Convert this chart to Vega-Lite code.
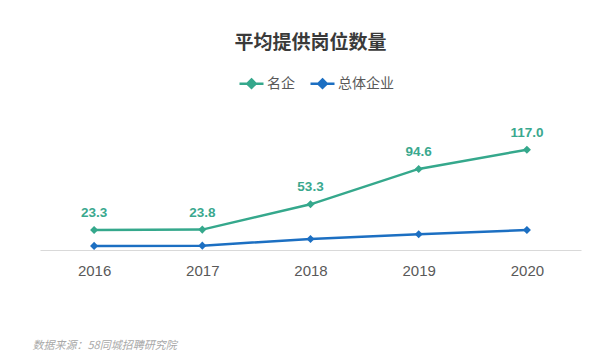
{
  "$schema": "https://vega.github.io/schema/vega-lite/v6.json",
  "width": 541,
  "height": 120,
  "autosize": {"type": "none"},
  "padding": {"left": 40, "top": 130, "right": 10, "bottom": 110},
  "background": "white",
  "config": {"view": {"stroke": null}},
  "title": {
    "text": "平均提供岗位数量",
    "font": "Noto Sans CJK SC",
    "fontSize": 19,
    "fontWeight": "bold",
    "color": "#3a3a3a",
    "anchor": "middle",
    "frame": "group",
    "offset": 17
  },
  "data": {
    "values": [
      {"year": "2016", "series": "名企", "value": 23.3},
      {"year": "2017", "series": "名企", "value": 23.8},
      {"year": "2018", "series": "名企", "value": 53.3},
      {"year": "2019", "series": "名企", "value": 94.6},
      {"year": "2020", "series": "名企", "value": 117.0},
      {"year": "2016", "series": "总体企业", "value": 4.8},
      {"year": "2017", "series": "总体企业", "value": 5.1},
      {"year": "2018", "series": "总体企业", "value": 12.8},
      {"year": "2019", "series": "总体企业", "value": 18.4},
      {"year": "2020", "series": "总体企业", "value": 23.3}
    ]
  },
  "encoding": {
    "x": {
      "field": "year",
      "type": "ordinal",
      "scale": {"paddingInner": 0, "paddingOuter": 0},
      "axis": {
        "title": "数据来源：58同城招聘研究院",
        "titleFont": "Noto Sans CJK SC",
        "titleFontStyle": "italic",
        "titleFontWeight": "normal",
        "titleFontSize": 11,
        "titleColor": "#a8a8a8",
        "titleAnchor": "start",
        "titleAlign": "left",
        "titleBaseline": "middle",
        "titleX": -8,
        "titleY": 95,
        "labelAngle": 0,
        "labelFont": "Liberation Sans",
        "labelFontSize": 15,
        "labelColor": "#595959",
        "labelPadding": 13,
        "ticks": false,
        "domainColor": "#d9d9d9",
        "domainWidth": 1,
        "grid": false
      }
    },
    "y": {
      "field": "value",
      "type": "quantitative",
      "scale": {"domain": [0, 140]},
      "axis": null
    },
    "color": {
      "field": "series",
      "type": "nominal",
      "scale": {"domain": ["名企", "总体企业"], "range": ["#35a88c", "#1c6fc2"]},
      "legend": {
        "orient": "none",
        "legendX": 198,
        "legendY": -60,
        "direction": "horizontal",
        "title": null,
        "padding": 0,
        "symbolType": "M-1,0L1,0M0,-0.35L0.35,0L0,0.35L-0.35,0Z",
        "symbolSize": 576,
        "symbolStrokeWidth": 2.5,
        "labelFont": "Noto Sans CJK SC",
        "labelFontSize": 14,
        "labelColor": "#595959",
        "labelOffset": 2,
        "columnPadding": 10,
        "encode": {
          "symbols": {
            "update": {
              "fill": {"scale": "color", "field": "value"},
              "stroke": {"scale": "color", "field": "value"},
              "opacity": {"value": 1}
            }
          }
        }
      }
    }
  },
  "layer": [
    {"mark": {"type": "line", "strokeWidth": 2.5}},
    {"mark": {"type": "point", "shape": "diamond", "filled": true, "size": 65, "opacity": 1}},
    {
      "transform": [{"filter": "datum.series === '名企'"}],
      "mark": {
        "type": "text",
        "dy": -17,
        "font": "Liberation Sans",
        "fontSize": 13.5,
        "fontWeight": "bold",
        "color": "#3aa88e"
      },
      "encoding": {
        "text": {"field": "value", "type": "quantitative", "format": ".1f"},
        "color": {"value": "#3aa88e"}
      }
    }
  ]
}
